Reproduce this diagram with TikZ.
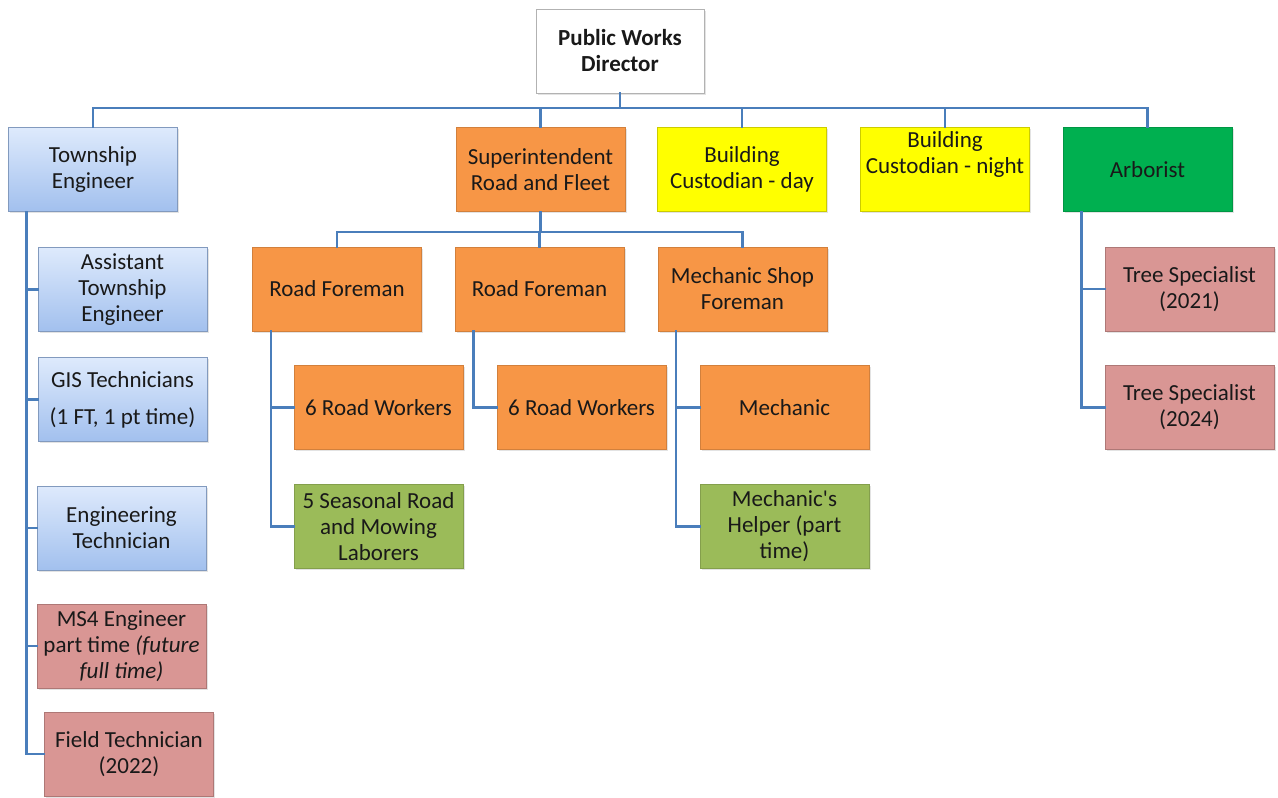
\documentclass[tikz,border=0pt]{standalone}
\usepackage{fontspec}
\setmainfont{Carlito}
\usetikzlibrary{calc,shadows}

\definecolor{conncol}{RGB}{74,126,187}
\definecolor{orangebox}{RGB}{247,150,70}
\definecolor{olivebox}{RGB}{155,187,89}
\definecolor{greenbox}{RGB}{0,176,80}
\definecolor{yellowbox}{RGB}{255,255,0}
\definecolor{pinkbox}{RGB}{217,150,148}
\definecolor{bluetop}{RGB}{222,234,252}
\definecolor{bluebot}{RGB}{162,192,238}

\begin{document}
\begin{tikzpicture}[x=1pt,y=-1pt,
  box/.style={rectangle, minimum width=169pt, minimum height=84pt, inner sep=0pt,
    align=center, font=\fontsize{23}{26}\selectfont, text=black!90,
    line width=0.7pt,
    drop shadow={opacity=0.22, shadow xshift=1.5pt, shadow yshift=-1.5pt}},
  headbox/.style={box, fill=white, draw=black!30},
  bluebox/.style={box, top color=bluetop, bottom color=bluebot, draw=bluebot!80!black},
  orbox/.style={box, fill=orangebox, draw=orangebox!85!black},
  olbox/.style={box, fill=olivebox, draw=olivebox!85!black},
  grbox/.style={box, fill=greenbox, draw=greenbox!85!black},
  yebox/.style={box, fill=yellowbox, draw=yellowbox!80!black},
  pibox/.style={box, fill=pinkbox, draw=pinkbox!80!black},
  conn/.style={draw=conncol, line width=2.6pt, line cap=rect}
]
\useasboundingbox[fill=white] (0,0) rectangle (1278,798);

% top level
\node[headbox, minimum width=168pt, font=\fontsize{23}{26}\selectfont\bfseries] (dir) at (620,51) {Public Works\\Director};

% second level
\node[bluebox] (te)  at (93,169.5)    {Township\\Engineer};
\node[orbox]   (sup) at (540.5,169.5) {Superintendent\\Road and Fleet};
\node[yebox]   (bcd) at (742,169.5)   {Building\\Custodian - day};
\node[yebox]   (bcn) at (945,169.5)   {Building\\Custodian - night\\\strut};
\node[grbox]   (arb) at (1147.5,169.5){Arborist};

% engineering staff
\node[bluebox] (ate) at (122.5,289.5) {Assistant\\Township\\Engineer};
\node[bluebox] (gis) at (122.5,399.5) {GIS Technicians\\[11pt](1 FT, 1 pt time)};
\node[bluebox] (eng) at (121.5,528)   {Engineering\\Technician};
\node[pibox]   (ms4) at (121.5,646)   {MS4 Engineer\\part time \textit{(future}\\\textit{full time)}};
\node[pibox]   (ft)  at (129,754)     {Field Technician\\(2022)};

% road and fleet
\node[orbox] (rf1) at (337,289)     {Road Foreman};
\node[orbox] (rf2) at (539.5,289)   {Road Foreman};
\node[orbox] (msf) at (742.5,289)   {Mechanic Shop\\Foreman};
\node[orbox] (rw1) at (378.5,407.5) {6 Road Workers};
\node[olbox] (sea) at (378.5,526.5) {5 Seasonal Road\\and Mowing\\Laborers};
\node[orbox] (rw2) at (581.5,407.5) {6 Road Workers};
\node[orbox] (mec) at (784.5,407.5) {Mechanic};
\node[olbox] (hlp) at (784.5,526.5) {Mechanic\textquotesingle s\\Helper (part\\time)};

% arborist staff
\node[pibox] (ts1) at (1189.5,289)   {Tree Specialist\\(2021)};
\node[pibox] (ts2) at (1189.5,407.5) {Tree Specialist\\(2024)};

% director to second level
\coordinate (bus) at (0,108);
\draw[conn] (dir.south) -- (dir.south |- bus);
\draw[conn] (te.north) -- (te.north |- bus) -- (arb.north |- bus) -- (arb.north);
\foreach \n in {sup,bcd,bcn}
  \draw[conn] (\n.north) -- (\n.north |- bus);

% superintendent to foremen
\coordinate (sbus) at (0,232);
\draw[conn] (sup.south) -- (sup.south |- sbus);
\draw[conn] (rf1.north) -- (rf1.north |- sbus) -- (msf.north |- sbus) -- (msf.north);
\draw[conn] (rf2.north) -- (rf2.north |- sbus);

% side rails down the left of each group
\coordinate (teR)  at ($(te.south west)+(18.5,0)$);
\coordinate (rf1R) at ($(rf1.south west)+(19,0)$);
\coordinate (rf2R) at ($(rf2.south west)+(19,0)$);
\coordinate (msfR) at ($(msf.south west)+(18.5,0)$);
\coordinate (arbR) at ($(arb.south west)+(19,0)$);

\draw[conn] (teR) |- (ft.west);
\foreach \n in {ate,gis,eng,ms4}
  \draw[conn] (teR |- \n.west) -- (\n.west);

\draw[conn] (rf1R) |- (sea.west);
\draw[conn] (rf1R |- rw1.west) -- (rw1.west);
\draw[conn] (rf2R) |- (rw2.west);
\draw[conn] (msfR) |- (hlp.west);
\draw[conn] (msfR |- mec.west) -- (mec.west);
\draw[conn] (arbR) |- (ts2.west);
\draw[conn] (arbR |- ts1.west) -- (ts1.west);
\end{tikzpicture}
\end{document}
